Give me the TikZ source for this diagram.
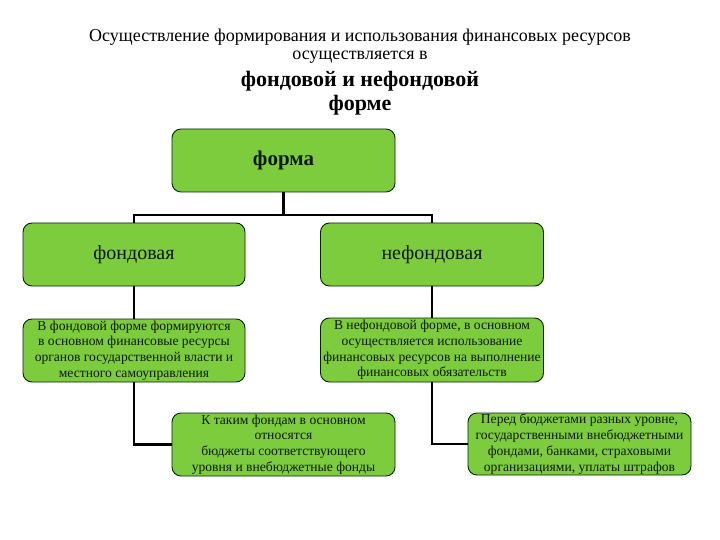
\documentclass[tikz,border=0pt]{standalone}
\usepackage{fontspec}
\setmainfont{Liberation Serif}
\definecolor{boxgreen}{RGB}{124,204,62}
\definecolor{txt}{RGB}{15,25,10}
\begin{document}
\begin{tikzpicture}[x=1pt,y=1pt,
  gbox/.style={draw=black!85!green, line width=0.9pt, fill=boxgreen, rounded corners=9pt,
    inner sep=0pt, align=center, text=txt},
  small/.style={font=\fontsize{13.6}{15.8}\selectfont},
  conn/.style={draw=black, line width=2.6pt}]
\useasboundingbox (0,0) rectangle (720,-540);
% titles
\node[align=center, font=\fontsize{18}{18.5}\selectfont] (t1) at (360,-46)
  {Осуществление формирования и использования финансовых ресурсов\\осуществляется в};
\node[align=center, font=\fontsize{22}{24}\selectfont\bfseries] (t2) at (360,-93)
  {фондовой и нефондовой\\форме};
% boxes
\node[gbox, minimum width=223, minimum height=63, font=\fontsize{21}{24}\selectfont\bfseries] (forma) at (283.5,-160.5) {форма};
\node[gbox, minimum width=222, minimum height=63, font=\fontsize{20}{22}\selectfont] (fond) at (134,-254.5) {фондовая};
\node[gbox, minimum width=223, minimum height=63, font=\fontsize{20}{22}\selectfont] (nefond) at (432,-254.5) {нефондовая};
\node[gbox, small, minimum width=222, minimum height=63] (t3) at (134,-350.5)
  {В фондовой форме формируются\\в основном финансовые ресурсы\\органов государственной власти и\\местного самоуправления};
\node[gbox, small, minimum width=223, minimum height=64] (t4) at (432,-350)
  {В нефондовой форме, в основном\\осуществляется использование\\финансовых ресурсов на выполнение\\финансовых обязательств};
\node[gbox, small, minimum width=223, minimum height=63] (t5) at (283.5,-444.5)
  {К таким фондам в основном\\относятся\\бюджеты соответствующего\\уровня и внебюджетные фонды};
\node[gbox, small, minimum width=223, minimum height=62] (t6) at (579.5,-444)
  {Перед бюджетами разных уровне,\\государственными внебюджетными\\фондами, банками, страховыми\\организациями, уплаты штрафов};
% connectors
\coordinate (j) at (283.5,-215);
\draw[conn] (forma.south) -- (j);
\draw[conn] (fond.north) |- (j) -| (nefond.north);
\draw[conn] (fond.south) -- (t3.north);
\draw[conn] (nefond.south) -- (t4.north);
\draw[conn] (t3.south) |- (t5.west);
\draw[conn] (t4.south) |- (t6.west);
\end{tikzpicture}
\end{document}
